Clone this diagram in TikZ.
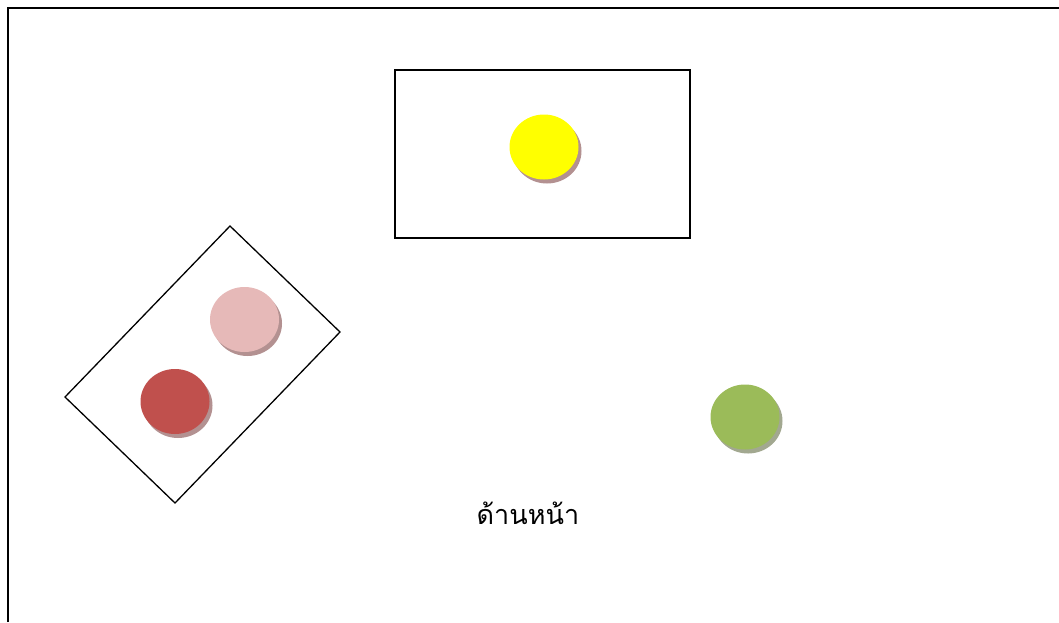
\documentclass[tikz,border=0pt]{standalone}
\usepackage{fontspec}
\newfontfamily\thaifont[Script=Thai]{Loma}
\usetikzlibrary{shapes.geometric,shadows,positioning}
\definecolor{lampyellow}{HTML}{FFFF00}
\definecolor{lamppink}{HTML}{E6B9B8}
\definecolor{lampred}{HTML}{C0504D}
\definecolor{lampgreen}{HTML}{9BBB59}
\definecolor{shadowred}{HTML}{B39191}
\definecolor{shadowgreen}{HTML}{A2A890}
\tikzset{
  lamp/.style={ellipse,minimum width=69pt,minimum height=65pt,inner sep=0pt,
    fill=#1,draw=none},
  lampshadow/.style={drop shadow={shadow xshift=3pt,shadow yshift=-4pt,
    fill=#1,opacity=1}},
  frame/.style={line width=1.6pt,black},
  box/.style={draw,line width=1.3pt,black}
}
\begin{document}
\begin{tikzpicture}[x=1pt,y=-1pt]
  \useasboundingbox (0,0) rectangle (1059,622);
  % outer frame
  \draw[frame] (8,622) -- (8,8) -- (1059,8);
  % top box
  \node[box,minimum width=295pt,minimum height=168pt,inner sep=0pt] (stage) at (542.5,154) {};
  \node[lamp=lampyellow,lampshadow=shadowred] (yellow) at (544,147) {};
  % tilted box
  \coordinate (tiltT) at (230,226);
  \coordinate (tiltR) at (340,332);
  \coordinate (tiltB) at (175,503);
  \coordinate (tiltL) at (65,397);
  \draw[box] (tiltT) -- (tiltR) -- (tiltB) -- (tiltL) -- cycle;
  \node[lamp=lamppink,lampshadow=shadowred] (pink) at (244.5,319.5) {};
  \node[lamp=lampred,lampshadow=shadowred] (red) at (175,401.5) {};
  % single lamp
  \node[lamp=lampgreen,lampshadow=shadowgreen] (green) at (745,417) {};
  % label
  \node[font=\thaifont\fontsize{27pt}{32pt}\selectfont] (front) at (528,513) {ด้านหน้า};
\end{tikzpicture}
\end{document}
